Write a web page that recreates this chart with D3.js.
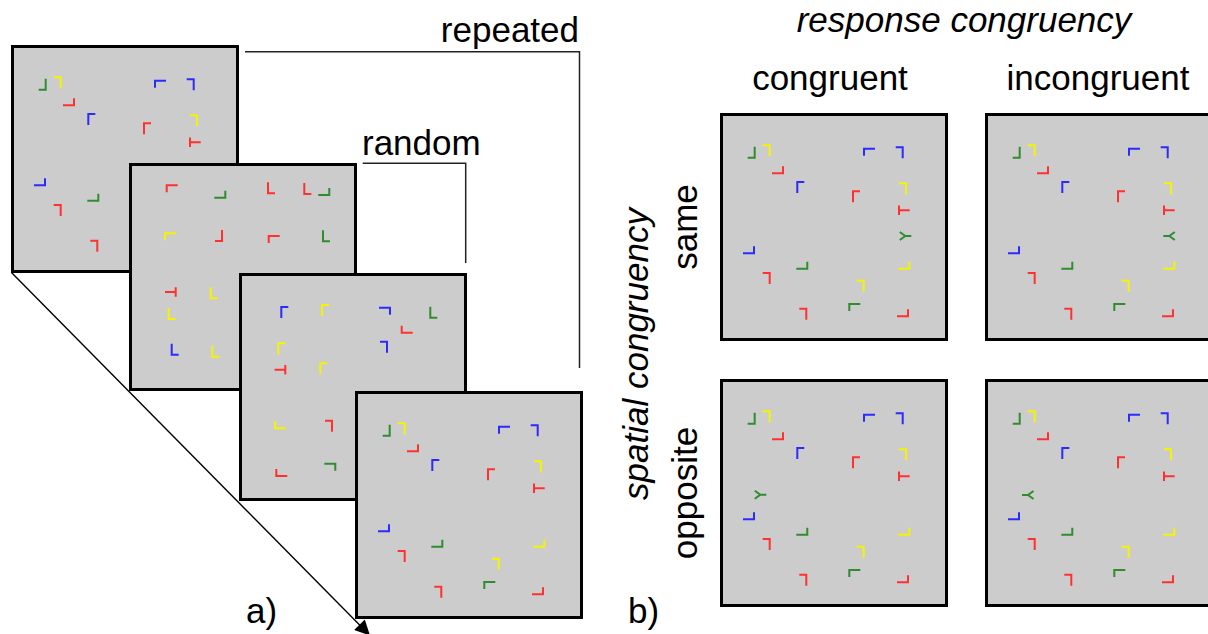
<!DOCTYPE html>
<html>
<head>
<meta charset="utf-8">
<script src="https://cdn.jsdelivr.net/npm/d3@7"></script>
<style>
  body { margin: 0; background: #fff; }
  svg { display: block; font-family: 'Liberation Sans', Arial, sans-serif; }
  .label { font-size: 35px; fill: #000; }
  .italic { font-style: italic; }
</style>
</head>
<body>
<svg id="figure" width="1208" height="634"></svg>
<script>
// Search displays: [shape, colour, x, y, orientation] in display units (0..228)
// L orientation = vertex corner + long arm (v/h), T / Y orientation = stem direction
const repeatedLayout = [
    ['L', 'green', 34.7, 44.7, 'BRv'],
    ['L', 'yellow', 49.7, 32.3, 'TRv'],
    ['L', 'red', 63, 60.3, 'BRh'],
    ['L', 'blue', 77.3, 69, 'TLv'],
    ['L', 'blue', 144, 35.7, 'TLh'],
    ['L', 'blue', 182.7, 34.3, 'TRv'],
    ['L', 'red', 133, 78.3, 'TLv'],
    ['L', 'yellow', 186, 70.3, 'TRv'],
    ['T', 'red', 179, 97.3, 'r'],
    ['L', 'blue', 34, 140.3, 'BRh'],
    ['L', 'green', 87.3, 155.7, 'BRh'],
    ['L', 'red', 49.7, 160, 'TRv'],
    ['L', 'red', 86.3, 195.7, 'TRv'],
    ['L', 'yellow', 143.7, 167.7, 'TRv'],
    ['L', 'green', 129.3, 191, 'TLh'],
    ['L', 'yellow', 189.3, 155.7, 'BRh'],
    ['L', 'red', 188, 203.3, 'BRh']
];

const randomLayoutA = [
    ['L', 'red', 37.7, 22.3, 'TLh'],
    ['L', 'green', 96.3, 34.7, 'BRh'],
    ['L', 'red', 139, 30.3, 'BLv'],
    ['L', 'red', 175.3, 31, 'BLv'],
    ['L', 'green', 200.3, 32, 'BRh'],
    ['L', 'yellow', 36, 70.3, 'TLh'],
    ['L', 'red', 93, 78, 'BRv'],
    ['L', 'red', 139.7, 73, 'TLh'],
    ['L', 'green', 194, 78.3, 'BLv'],
    ['T', 'red', 46.7, 129, 'l'],
    ['L', 'yellow', 81.7, 135.3, 'BLv'],
    ['L', 'yellow', 39.7, 156, 'BLv'],
    ['L', 'blue', 42.7, 191.7, 'BLv'],
    ['L', 'yellow', 83.3, 193.7, 'BLv']
];

const randomLayoutB = [
    ['L', 'blue', 42.3, 34, 'TLv'],
    ['L', 'yellow', 83, 32, 'TLv'],
    ['L', 'blue', 151, 34.7, 'TRh'],
    ['L', 'green', 191.3, 44.7, 'BLv'],
    ['L', 'red', 162.7, 59.7, 'BLh'],
    ['L', 'yellow', 39.3, 70.3, 'TLv'],
    ['L', 'blue', 148, 68.7, 'TRv'],
    ['T', 'red', 46.3, 96.7, 'l'],
    ['L', 'yellow', 81.3, 90.3, 'TLv'],
    ['L', 'yellow', 36, 155.3, 'BLh'],
    ['L', 'red', 93, 147.7, 'TRv'],
    ['L', 'red', 37.3, 203, 'BLh'],
    ['L', 'green', 96.3, 190.7, 'TRh']
];

// panel b) conditions
const responseLevels = ['congruent', 'incongruent'];
const spatialLevels = ['same', 'opposite'];
const probeItems = [
    { spatial: 'same', response: 'congruent', x: 185.3, y: 123, dir: 'r' },
    { spatial: 'same', response: 'incongruent', x: 184.3, y: 123, dir: 'l' },
    { spatial: 'opposite', response: 'congruent', x: 40.3, y: 115.7, dir: 'r' },
    { spatial: 'opposite', response: 'incongruent', x: 43, y: 116, dir: 'l' }
];

const stackLabels = ['repeated', 'random'];

class StimulusFigure {

    constructor(_config) {
        this.config = {
            parentElement: _config.parentElement,
            panelSize: 228,
            colors: { red: '#ff3030', green: '#2f8c2f', blue: '#2b2bff', yellow: '#f4f400' }
        };
        this.initVis();
    }

    initVis() {
        let vis = this;

        vis.svg = d3.select(vis.config.parentElement);

        // display units -> pixels inside a panel
        vis.pos = d3.scaleLinear().domain([0, 228]).range([0, vis.config.panelSize]);

        // panel b) grid
        vis.colScale = d3.scalePoint().domain(responseLevels).range([720, 985]);
        vis.rowScale = d3.scalePoint().domain(spatialLevels).range([113, 379]);

        vis.defs = vis.svg.append('defs');
        vis.defs.append('marker')
            .attr('id', 'arrowhead')
            .attr('viewBox', '0 0 10 10')
            .attr('refX', 10)
            .attr('refY', 5)
            .attr('markerWidth', 21)
            .attr('markerHeight', 15)
            .attr('markerUnits', 'userSpaceOnUse')
            .attr('orient', 'auto')
          .append('path')
            .attr('d', 'M0,0 L10,5 L0,10 Z')
            .attr('fill', '#000');

        vis.renderVis();
    }

    glyphPath(d) {
        let vis = this;
        const x = vis.pos(d[2]), y = vis.pos(d[3]);
        const p = d3.path();
        if (d[0] === 'L') {
            const corner = d[4].slice(0, 2);
            const longArm = d[4][2];
            const hl = vis.pos(longArm === 'h' ? 11 : 7);
            const vl = vis.pos(longArm === 'v' ? 11 : 7);
            const hx = corner[1] === 'L' ? 1 : -1;
            const vy = corner[0] === 'T' ? 1 : -1;
            p.moveTo(x + hx * hl, y);
            p.lineTo(x, y);
            p.lineTo(x, y + vy * vl);
        } else if (d[0] === 'T') {
            const s = d[4] === 'r' ? 1 : -1;
            p.moveTo(x, y - vis.pos(4.7));
            p.lineTo(x, y + vis.pos(4.7));
            p.moveTo(x, y);
            p.lineTo(x + s * vis.pos(10.7), y);
        } else {
            // Y probe
            const s = d[4] === 'r' ? 1 : -1;
            p.moveTo(x + s * vis.pos(6), y);
            p.lineTo(x, y);
            p.moveTo(x - s * vis.pos(5.5), y - vis.pos(4));
            p.lineTo(x, y);
            p.lineTo(x - s * vis.pos(5.5), y + vis.pos(4));
        }
        return p.toString();
    }

    drawPanel(x0, y0, items) {
        let vis = this;
        const g = vis.svg.append('g')
            .attr('transform', `translate(${x0},${y0})`);

        g.append('rect')
            .attr('x', 1.5)
            .attr('y', 1.5)
            .attr('width', vis.config.panelSize - 3)
            .attr('height', vis.config.panelSize - 3)
            .attr('fill', '#cccccc')
            .attr('stroke', '#000')
            .attr('stroke-width', 3);

        g.selectAll('.glyph')
            .data(items)
          .join('path')
            .attr('class', 'glyph')
            .attr('d', d => vis.glyphPath(d))
            .attr('fill', 'none')
            .attr('stroke', d => vis.config.colors[d[1]])
            .attr('stroke-width', 2)
            .attr('stroke-linejoin', 'miter');
    }

    renderVis() {
        let vis = this;

        // a) stack of displays: brackets behind, then panels back to front
        vis.svg.append('path')
            .attr('d', 'M245,51.7 H579.5 V368')
            .attr('fill', 'none')
            .attr('stroke', '#222')
            .attr('stroke-width', 1.5);
        vis.svg.append('path')
            .attr('d', 'M362.7,163.3 H465.7 V263')
            .attr('fill', 'none')
            .attr('stroke', '#222')
            .attr('stroke-width', 1.5);

        const stackOrigins = [[11, 45], [129, 163], [239, 273], [355, 391]];
        const stackLayouts = [repeatedLayout, randomLayoutA, randomLayoutB, repeatedLayout];
        stackLayouts.forEach((layout, i) => {
            vis.drawPanel(stackOrigins[i][0], stackOrigins[i][1], layout);
        });

        // time arrow along the corners of the stack
        vis.svg.append('line')
            .attr('x1', 11.7).attr('y1', 272.7)
            .attr('x2', 370).attr('y2', 635.5)
            .attr('stroke', '#000')
            .attr('stroke-width', 1.4)
            .attr('marker-end', 'url(#arrowhead)');

        vis.svg.append('text').attr('class', 'label')
            .attr('x', 579).attr('y', 41.5)
            .attr('text-anchor', 'end')
            .text(stackLabels[0]);
        vis.svg.append('text').attr('class', 'label')
            .attr('x', 362).attr('y', 155)
            .text(stackLabels[1]);
        vis.svg.append('text').attr('class', 'label')
            .attr('x', 246).attr('y', 623)
            .text('a)');

        // b) 2x2 grid of probe displays
        probeItems.forEach(p => {
            const items = repeatedLayout.concat([['Y', 'green', p.x, p.y, p.dir]]);
            vis.drawPanel(vis.colScale(p.response), vis.rowScale(p.spatial), items);
        });

        const half = vis.config.panelSize / 2;

        vis.svg.append('text').attr('class', 'label italic')
            .attr('x', 964).attr('y', 32)
            .attr('text-anchor', 'middle')
            .text('response congruency');

        vis.svg.selectAll('.col-label')
            .data(responseLevels)
          .join('text')
            .attr('class', 'label col-label')
            .attr('x', (d, i) => vis.colScale(d) + half - (i === 0 ? 4 : 1))
            .attr('y', 90)
            .attr('text-anchor', 'middle')
            .text(d => d);

        vis.svg.selectAll('.row-label')
            .data(spatialLevels)
          .join('text')
            .attr('class', 'label row-label')
            .attr('text-anchor', 'middle')
            .attr('transform', d => `translate(697,${vis.rowScale(d) + half}) rotate(-90)`)
            .text(d => d);

        vis.svg.append('text').attr('class', 'label italic')
            .attr('text-anchor', 'middle')
            .attr('transform', 'translate(648,354) rotate(-90)')
            .text('spatial congruency');

        vis.svg.append('text').attr('class', 'label')
            .attr('x', 628).attr('y', 623)
            .text('b)');
    }
}

const figure = new StimulusFigure({ parentElement: '#figure' });
</script>
</body>
</html>
